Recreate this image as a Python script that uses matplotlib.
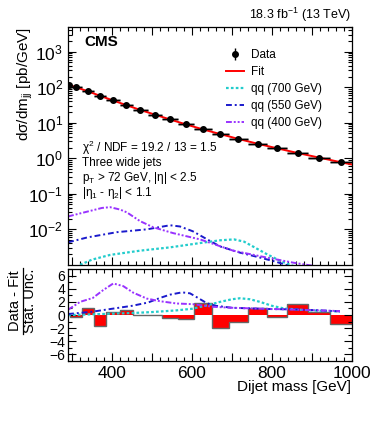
import numpy as np
import matplotlib
matplotlib.use('Agg')
import matplotlib.pyplot as plt
from matplotlib.lines import Line2D
from matplotlib.ticker import MultipleLocator, LogLocator, FuncFormatter, NullFormatter

plt.rcParams['font.family'] = ['Liberation Sans', 'DejaVu Sans']
plt.rcParams['mathtext.fontset'] = 'custom'
plt.rcParams['mathtext.rm'] = 'Liberation Sans'
plt.rcParams['mathtext.it'] = 'Liberation Sans:italic'
plt.rcParams['mathtext.bf'] = 'Liberation Sans:bold'
plt.rcParams['mathtext.default'] = 'regular'

# dijet mass bins (GeV)
bin_edges = [270, 296, 325, 354, 386, 419, 453, 489, 526, 565, 606, 649,
             693, 740, 788, 838, 890, 944, 1000]

# data points
data_mass = [292, 310, 340, 370, 402, 436, 471, 507, 545, 585, 627, 671,
             716, 764, 813, 864, 917, 972]
data_xsec = [116, 100, 77, 57, 43, 31, 22.9, 17.0, 12.4, 9.0, 6.5, 4.8,
             3.5, 2.57, 1.90, 1.41, 1.05, 0.77]

# fit curve
fit_mass = [290, 310, 340, 370, 402, 436, 471, 507, 545, 585, 627, 671,
            716, 764, 813, 864, 917, 972, 1000]
fit_xsec = [118.9, 100, 76.7, 57.5, 42.7, 31.3, 22.9, 17.0, 12.4, 9.0,
            6.53, 4.79, 3.51, 2.57, 1.91, 1.41, 1.05, 0.776, 0.668]

# (data - fit) / stat. unc. for bins 296-1000
pulls = [-0.3, 1.0, -1.7, 0.4, 0.8, 0.05, 0.02, -0.45, -0.6, 1.9, -2.0,
         -1.0, 1.0, -0.35, 1.75, 0.45, -1.4]

# signal shapes, upper panel (pb/GeV)
qq700_m = [320, 350, 395, 470, 545, 620, 670, 705, 730, 752, 787, 820, 845, 870]
qq700_y = [0.001, 0.0014, 0.0019, 0.0025, 0.0031, 0.0041, 0.0049, 0.0052,
           0.0045, 0.0033, 0.0020, 0.0013, 0.001, 0.0008]
qq550_m = [290, 338, 412, 488, 545, 570, 602, 638, 670, 720, 770, 812, 840, 860]
qq550_y = [0.0043, 0.0059, 0.0083, 0.010, 0.013, 0.012, 0.0088, 0.0052,
           0.0033, 0.0022, 0.0016, 0.0012, 0.00095, 0.0008]
qq400_m = [290, 320, 350, 375, 395, 420, 437, 470, 503, 553, 620, 703, 787,
           853, 900, 930]
qq400_y = [0.023, 0.028, 0.034, 0.040, 0.042, 0.036, 0.030, 0.017, 0.0114,
           0.0078, 0.0052, 0.0025, 0.0016, 0.00115, 0.00095, 0.0008]

# signal shapes, lower panel (in units of stat. unc.)
qq700_pm = [290, 350, 400, 450, 500, 560, 600, 640, 670, 700, 720, 745, 770,
            800, 830, 870, 920, 970]
qq700_p = [0.0, 0.1, 0.2, 0.3, 0.45, 0.7, 0.95, 1.5, 2.0, 2.4, 2.55, 2.4, 2.0,
           1.4, 1.0, 0.8, 0.65, 0.55]
qq550_pm = [290, 350, 400, 450, 490, 520, 545, 575, 595, 615, 637, 660, 700,
            750, 800, 860, 920, 970]
qq550_p = [0.15, 0.5, 0.95, 1.4, 1.9, 2.6, 3.1, 3.45, 3.3, 2.6, 1.8, 1.4, 1.1,
           1.0, 0.9, 0.85, 0.7, 0.55]
qq400_pm = [290, 320, 352, 378, 403, 428, 453, 487, 520, 562, 602, 652, 702,
            752, 812, 870, 920, 970]
qq400_p = [0.8, 2.0, 2.6, 3.8, 4.8, 4.4, 3.4, 2.5, 2.1, 1.75, 1.65, 1.25, 1.1,
           1.0, 0.9, 0.8, 0.7, 0.6]

c700 = '#22cccc'
c550 = '#1a1acc'
c400 = '#9933ff'
ls700 = (0, (1.2, 1.0))
ls550 = (0, (3, 1.5, 1, 1.5))
ls400 = (0, (3, 1, 1, 1, 1, 1))

fig = plt.figure(figsize=(3.74, 4.21), dpi=100)
ax1 = fig.add_axes([0.182, 0.371, 0.759, 0.565])
ax2 = fig.add_axes([0.182, 0.1425, 0.759, 0.2185])

edges = np.array(bin_edges)
lo = edges[:-1]
hi = edges[1:]
dm = np.array(data_mass)

# upper panel
ax1.hlines(data_xsec, lo, hi, color='#aaaaaa', lw=2)
ax1.plot(fit_mass, fit_xsec, color='red', lw=1.4, label='Fit', zorder=3)
ax1.errorbar(dm, data_xsec, xerr=[dm - lo, hi - dm], fmt='o', ms=4,
             color='black', lw=1, capsize=0, zorder=4)
hd = ax1.errorbar([np.nan], [np.nan], yerr=[1], fmt='o', ms=4, color='black',
                  lw=1, capsize=0, label='Data')
ax1.plot(qq700_m, qq700_y, color=c700, ls=ls700, lw=1.6, label='qq (700 GeV)')
ax1.plot(qq550_m, qq550_y, color=c550, ls=ls550, lw=1.4, label='qq (550 GeV)')
ax1.plot(qq400_m, qq400_y, color=c400, ls=ls400, lw=1.4, label='qq (400 GeV)')

ax1.set_xlim(290, 1000)
ax1.set_yscale('log')
ax1.set_ylim(1e-3, 5e3)
ax1.yaxis.set_major_locator(LogLocator(base=10, numticks=20))
ax1.yaxis.set_minor_locator(LogLocator(base=10, subs=np.arange(2, 10), numticks=20))
ax1.yaxis.set_minor_formatter(NullFormatter())
ax1.set_yticks([1e-2, 1e-1, 1, 10, 100, 1000])

handles, labels = ax1.get_legend_handles_labels()
order = [labels.index(l) for l in ['Data', 'Fit', 'qq (700 GeV)', 'qq (550 GeV)', 'qq (400 GeV)']]
ax1.legend([handles[i] for i in order], [labels[i] for i in order],
           loc='upper left', bbox_to_anchor=(0.52, 0.95), frameon=False,
           fontsize=8.5, handlelength=1.5, handletextpad=0.6, labelspacing=0.42)

# lower panel
ax2.stairs(pulls, edges[1:], fill=True, color='red', baseline=0)
ax2.stairs(pulls, edges[1:], color='#666666', baseline=0, lw=1)
ax2.plot(qq700_pm, qq700_p, color=c700, ls=ls700, lw=1.6)
ax2.plot(qq550_pm, qq550_p, color=c550, ls=ls550, lw=1.4)
ax2.plot(qq400_pm, qq400_p, color=c400, ls=ls400, lw=1.4)
ax2.set_xlim(290, 1000)
ax2.set_ylim(-7, 7)
ax2.yaxis.set_major_locator(MultipleLocator(2))
ax2.yaxis.set_minor_locator(MultipleLocator(1))

for ax in (ax1, ax2):
    ax.xaxis.set_major_locator(MultipleLocator(100))
    ax.xaxis.set_minor_locator(MultipleLocator(20))
    ax.tick_params(which='both', direction='in', top=True, right=True,
                   labelsize=12.5, width=0.8)
    ax.tick_params(which='major', length=6)
    ax.tick_params(which='minor', length=3)
    for s in ax.spines.values():
        s.set_linewidth(0.9)

ax1.tick_params(axis='x', labelbottom=False)
ax2.tick_params(axis='y', pad=2, labelsize=10)
ax2.xaxis.set_major_formatter(FuncFormatter(lambda v, p: '%d' % v if v % 200 == 0 else ''))
ax2.set_yticks([-6, -4, -2, 0, 2, 4, 6])
ax2.set_yticklabels(['\u22126', '\u22124', '\u22122', '0', '2', '4', '6'])

# texts
W, H = 374.0, 421.0
fig.text(351 / W, 1 - 15 / H, '18.3 fb$^{-1}$ (13 TeV)', ha='right', va='center', fontsize=9)
fig.text(84 / W, 1 - 42 / H, 'CMS', fontsize=11, fontweight='bold', ha='left', va='center')
fig.text(82 / W, 1 - 148 / H, '\u03c7$^{2}$ / NDF = 19.2 / 13 = 1.5', fontsize=8.5, va='center')
fig.text(82 / W, 1 - 163 / H, 'Three wide jets', fontsize=8.5, va='center')
fig.text(82 / W, 1 - 178 / H, 'p$_{T}$ > 72 GeV, |\u03b7| < 2.5', fontsize=8.5, va='center')
fig.text(82 / W, 1 - 193 / H, '|\u03b7$_{1}$ - \u03b7$_{2}$| < 1.1', fontsize=8.5, va='center')
fig.text(25 / W, 1 - 27 / H, 'd\u03c3/dm$_{jj}$ [pb/GeV]', rotation=90, ha='center', va='top', fontsize=11)

# ratio-panel y title drawn as a fraction
fig.text(15 / W, 1 - 301 / H, 'Data - Fit', rotation=90, ha='center', va='center', fontsize=10.5)
fig.add_artist(Line2D([22.5 / W, 22.5 / W], [1 - 268 / H, 1 - 334 / H],
                      transform=fig.transFigure, color='black', lw=0.9))
fig.text(30 / W, 1 - 301 / H, 'Stat. Unc.', rotation=90, ha='center', va='center', fontsize=10.5)
fig.text(351 / W, 1 - 387 / H, 'Dijet mass [GeV]', ha='right', va='center', fontsize=11)

fig.savefig('out.png', dpi=100)
